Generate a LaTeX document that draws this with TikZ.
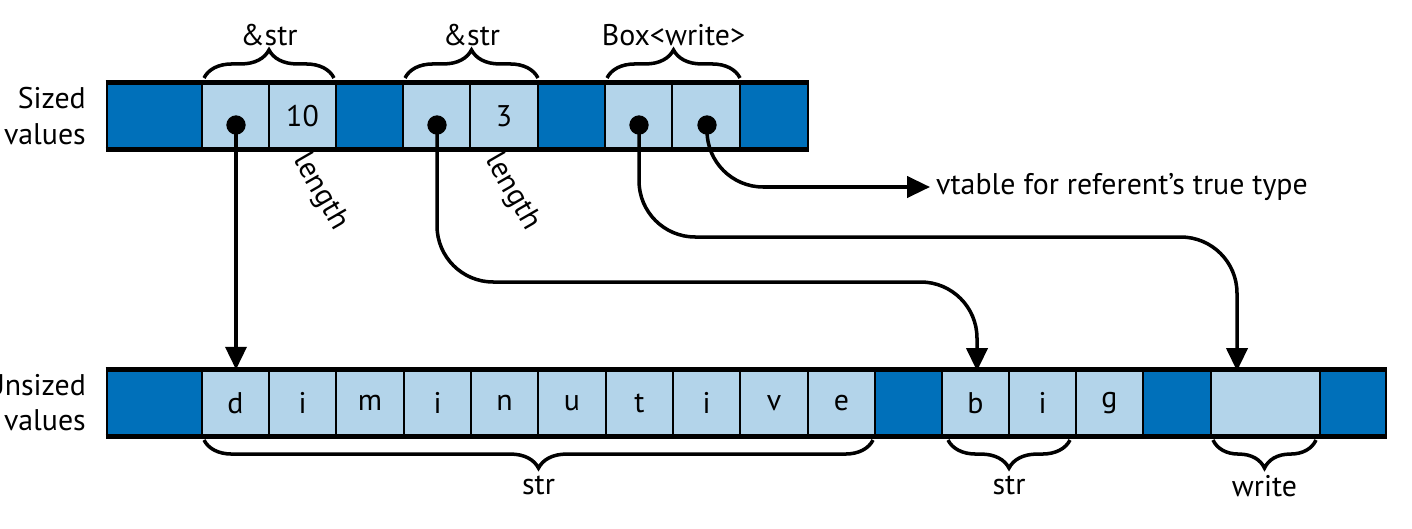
\documentclass[tikz,border=0pt]{standalone}
\usepackage{fontspec}
\setmainfont{PT Sans}
\usetikzlibrary{decorations.pathreplacing, calc, arrows.meta}

\definecolor{darkcell}{HTML}{0070BA}
\definecolor{lightcell}{HTML}{B3D4EA}

\newlength{\unit}
\setlength{\unit}{0.02cm}
\tikzset{
	cell/.style={draw=black, line width=1.6pt, minimum height=64\unit, inner sep=0pt},
	dark/.style={cell, fill=darkcell},
	light/.style={cell, fill=lightcell},
	rail/.style={line width=3pt},
	brace/.style={decorate, decoration={brace, amplitude=16pt}, line width=2pt},
	ptr/.style={line width=2pt, -{Triangle[length=13pt, width=12pt]}, rounded corners=32pt},
	dot/.style={circle, fill=black, inner sep=0pt, minimum size=11pt},
}

\begin{document}
\begin{tikzpicture}[x=0.02cm, y=-0.02cm, font=\fontsize{17}{20}\selectfont]
	\useasboundingbox (0,0) rectangle (1412,528);
	
	% 1. Sized row: name, left edge, right edge, style, text
	\foreach \n/\a/\b/\s/\t in {s0/107/202/dark/, s1/202/269/light/, s2/269/336/light/10,
		s3/336/403/dark/, s4/403/470/light/, s5/470/538/light/3, s6/538/605/dark/,
		s7/605/672/light/, s8/672/740/light/, s9/740/808/dark/}
	\node[\s, minimum width={(\b-\a)*\unit}] (\n) at ({(\a+\b)/2}, 116) {\t};
	\draw[rail] (s0.north west) -- (s9.north east);
	\draw[rail] (s0.south west) -- (s9.south east);
	
	% 2. Unsized row
	\foreach \n/\a/\b/\s/\t in {u0/107/202/dark/, u1/202/269/light/d, u2/269/336/light/i,
		u3/336/404/light/m, u4/404/471/light/i, u5/471/538/light/n, u6/538/606/light/u,
		u7/606/673/light/t, u8/673/740/light/i, u9/740/808/light/v, u10/808/875/light/e,
		u11/875/942/dark/, u12/942/1009/light/b, u13/1009/1076/light/i, u14/1076/1143/light/g,
		u15/1143/1211/dark/, u16/1211/1320/light/, u17/1320/1386/dark/}
	\node[\s, minimum width={(\b-\a)*\unit}] (\n) at ({(\a+\b)/2}, 403) {\t};
	\draw[rail] (u0.north west) -- (u17.north east);
	\draw[rail] (u0.south west) -- (u17.south east);
	
	% 3. Row labels
	\node[align=right, anchor=east] (sized) at (92,116) {Sized\\values};
	\node[align=right, anchor=east] (unsized) at (92,403) {Unsized\\values};
	
	% 4. Braces and their labels
	\draw[brace] (204,78) -- (334,78) node[midway, above=14pt] (b1) {\&str};
	\draw[brace] (405,78) -- (538,78) node[midway, above=14pt] (b2) {\&str};
	\draw[brace] (607,78) -- (740,78) node[midway, above=14pt] (b3) {Box<write>};
	\draw[brace] (873,440) -- (204,440) node[midway, below=16pt] (b4) {str};
	\draw[brace] (1070,440) -- (948,440) node[midway, below=16pt] (b5) {str};
	\draw[brace] (1316,440) -- (1213,440) node[midway, below=16pt] (b6) {write};
	
	% 5. Length labels
	\node[rotate=-60] (len1) at (320,192) {length};
	\node[rotate=-60] (len2) at (512,192) {length};
	
	% 6. Pointers
	\node[dot] (p1) at (236,125) {};
	\node[dot] (p2) at (437,125) {};
	\node[dot] (p3) at (639,125) {};
	\node[dot] (p4) at (707,125) {};
	\node[anchor=west] (vt) at (930,187) {vtable for referent's true type};
	
	\draw[line width=2pt, -{Triangle[length=13pt, width=12pt]}] (p1.center) -- (u1.north -| p1);
	\draw[ptr] (p2.center) -- (437,282) -- (977,282) -- (977,371);
	\draw[ptr] (p3.center) -- (639,237) -- (1237,237) -- (1237,371);
	\draw[ptr] (p4.center) -- (707,187) -- (vt.west);
\end{tikzpicture}
\end{document}
